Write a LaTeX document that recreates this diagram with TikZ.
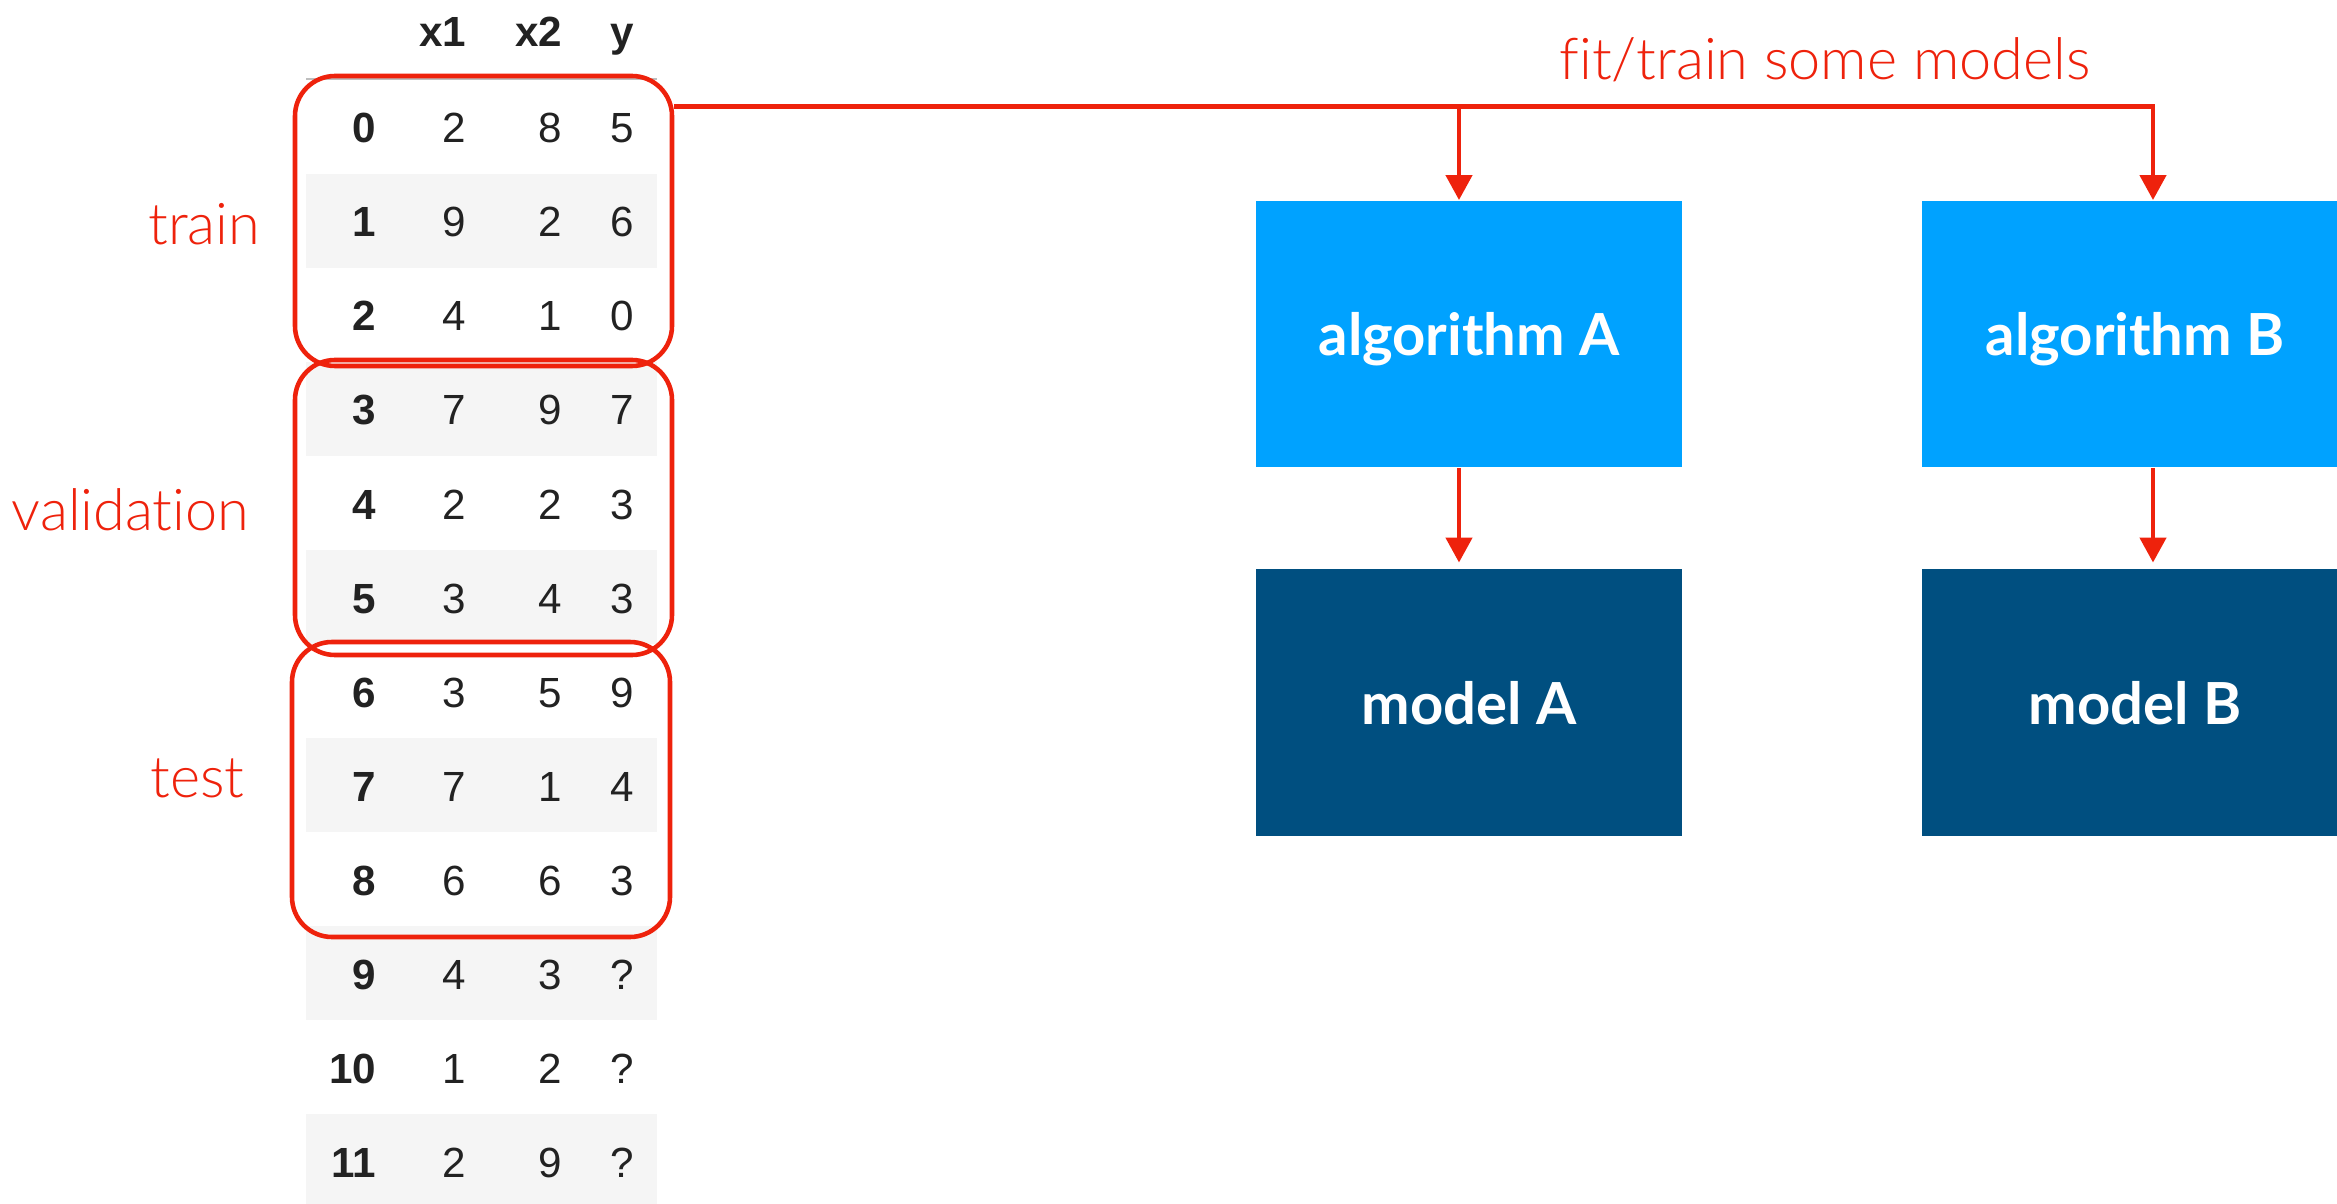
\documentclass[tikz,border=0pt]{standalone}
\usepackage{fontspec}
\setmainfont{Liberation Sans}
\newfontfamily\splitfont{Lato Light}[Ligatures=NoCommon]
\newfontfamily\boxfont{Lato}
\usetikzlibrary{arrows.meta}

\definecolor{splitred}{RGB}{238,34,12}
\definecolor{algblue}{RGB}{0,162,255}
\definecolor{modelblue}{RGB}{0,79,128}
\definecolor{bandgrey}{RGB}{245,245,245}
\definecolor{headgrey}{RGB}{190,190,190}
\definecolor{cellblack}{RGB}{34,34,34}

\begin{document}
\begin{tikzpicture}[
    cell/.style={inner sep=0pt, anchor=base east, text=cellblack, font=\fontsize{12}{14}\selectfont},
    idxcell/.style={cell, font=\fontsize{12}{14}\selectfont\bfseries},
    splitbox/.style={draw=splitred, line width=1.3pt, rounded corners=4mm, inner sep=0pt},
    splitlabel/.style={text=splitred, inner sep=0pt, font=\splitfont\fontsize{16.4}{20}\selectfont},
    algbox/.style={fill=algblue, text=white, minimum width=4.26cm, minimum height=2.665cm, inner sep=0pt, text depth=0pt, font=\boxfont\bfseries\fontsize{16.5}{20}\selectfont},
    modelbox/.style={algbox, fill=modelblue},
    redarrow/.style={draw=splitred, line width=1.3pt, -{Triangle[length=2.5mm,width=2.6mm]}}
  ]
  \useasboundingbox (0,0) rectangle (23.37,-12.04);
  \clip (0,0) rectangle (23.37,-12.04);

  % Header of the data frame
  \node[idxcell] (hx1) at (4.67,-0.47) {x1};
  \node[idxcell] (hx2) at (5.63,-0.47) {x2};
  \node[idxcell] (hy) at (6.35,-0.47) {y};
  \draw[headgrey, line width=0.8pt] (3.06,-0.79) -- (6.57,-0.79);

  % Rows, grey band on every second one
  \foreach \i/\a/\b/\c in {0/2/8/5, 1/9/2/6, 2/4/1/0, 3/7/9/7, 4/2/2/3, 5/3/4/3,
                           6/3/5/9, 7/7/1/4, 8/6/6/3, 9/4/3/?, 10/1/2/?, 11/2/9/?} {
    \pgfmathsetmacro\rowtop{-0.80-0.94*\i}
    \pgfmathsetmacro\rowbase{\rowtop-0.63}
    \ifodd\i
      \fill[bandgrey] (3.06,\rowtop) rectangle (6.57,\rowtop-0.94);
    \fi
    \node[idxcell] (idx\i) at (3.77,\rowbase) {\i};
    \node[cell] (xa\i) at (4.67,\rowbase) {\a};
    \node[cell] (xb\i) at (5.63,\rowbase) {\b};
    \node[cell] (y\i) at (6.35,\rowbase) {\c};
  }

  % Split into train, validation and test
  \node[splitbox, minimum width=3.77cm, minimum height=2.90cm] (trainbox) at (4.835,-2.21) {};
  \node[splitbox, minimum width=3.77cm, minimum height=2.95cm] (valbox) at (4.835,-5.075) {};
  \node[splitbox, minimum width=3.78cm, minimum height=2.95cm] (testbox) at (4.81,-7.895) {};

  \node[splitlabel, anchor=base east] (trainlabel) at (2.61,-2.45) {train};
  \node[splitlabel, anchor=base east] (vallabel) at (2.50,-5.30) {validation};
  \node[splitlabel, anchor=base east] (testlabel) at (2.45,-7.97) {test};

  % Algorithms and the models they give
  \node[algbox] (algA) at (14.69,-3.34) {algorithm A};
  \node[algbox] (algB) at (21.35,-3.34) {algorithm B};
  \node[modelbox] (modelA) at (14.69,-7.025) {model A};
  \node[modelbox] (modelB) at (21.35,-7.025) {model B};

  % Fit/train arrows
  \coordinate (split) at ([yshift=-3.3mm]trainbox.north east);
  \draw[redarrow] (split) -| ([xshift=1.8mm]algB.north);
  \draw[redarrow] ([xshift=-1mm]algA.north |- split) -- ([xshift=-1mm]algA.north);
  \node[splitlabel, anchor=base] (fitlabel) at (18.25,-0.80) {fit/train some models};

  \draw[redarrow] ([xshift=-1mm]algA.south) -- ([xshift=-1mm,yshift=0.6mm]modelA.north);
  \draw[redarrow] ([xshift=1.8mm]algB.south) -- ([xshift=1.8mm,yshift=0.6mm]modelB.north);

\end{tikzpicture}
\end{document}
